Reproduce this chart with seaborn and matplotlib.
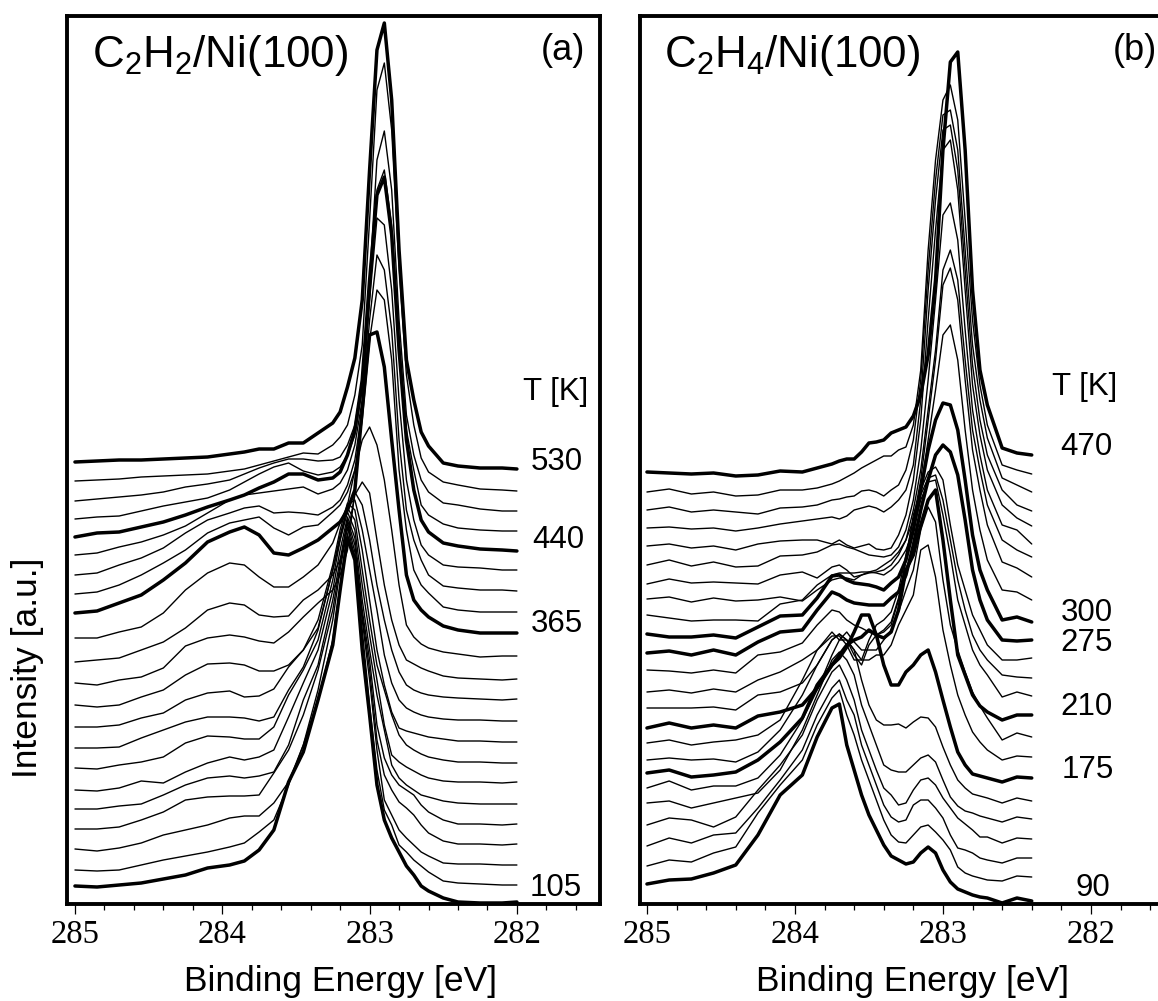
import pandas as pd
import seaborn as sns
import matplotlib.pyplot as plt
from matplotlib.ticker import MultipleLocator

# binding energy grids [eV]
energy_a = [285.0, 284.85, 284.7, 284.55, 284.4, 284.25, 284.1, 283.95, 283.85, 283.75, 283.65,
            283.55, 283.45, 283.35, 283.25, 283.2, 283.15, 283.1, 283.05, 283.0, 282.95, 282.9,
            282.85, 282.8, 282.75, 282.7, 282.65, 282.6, 282.5, 282.4, 282.25, 282.1, 282.0]
energy_b = [285.0, 284.85, 284.7, 284.55, 284.4, 284.25, 284.1, 283.95, 283.85, 283.75, 283.7,
            283.65, 283.6, 283.55, 283.5, 283.45, 283.4, 283.35, 283.3, 283.25, 283.2, 283.15,
            283.1, 283.05, 283.0, 282.95, 282.9, 282.85, 282.8, 282.75, 282.7, 282.6, 282.5, 282.4]

# panel (a) spectra, top one first (stacked intensity)
a01 = [443,444,445,445,446,447,448,451,453,456,456,462,462,472,482,493,518,547,605,735,855,882,805,655,545,505,473,459,442,439,437,437,436]
a02 = [424,425,426,428,429,430,431,434,436,440,444,448,452,451,460,468,480,510,560,685,815,842,775,635,530,480,447,433,423,420,416,415,414]
a03 = [404,406,408,410,413,418,421,425,431,437,442,446,446,444,445,448,460,480,525,625,745,774,715,585,490,450,425,413,402,400,396,394,394]
a04 = [386,388,389,394,399,403,407,415,423,431,438,442,434,430,433,438,450,470,515,605,715,735,680,565,475,435,400,390,381,377,375,374,374]
a05 = [368,372,373,378,383,390,398,405,410,417,423,431,431,425,427,433,450,475,525,625,710,728,670,555,465,415,385,373,362,359,356,355,354]
a06 = [350,352,358,363,370,379,392,405,410,412,414,416,418,411,416,422,435,460,505,605,687,680,615,505,425,385,360,350,340,338,337,335,335]
a07 = [330,332,340,347,357,372,385,392,397,399,392,393,392,390,398,405,420,445,495,585,650,635,575,465,395,365,345,330,319,317,315,315,314]
a08 = [311,313,320,330,342,355,372,382,385,388,377,370,378,380,393,400,413,435,485,565,615,605,545,435,375,335,320,312,298,295,293,293,293]
a09 = [292,294,302,310,325,342,363,373,378,370,352,350,357,365,377,383,395,415,495,570,573,538,465,395,330,305,295,288,279,275,272,272,272]
a10 = [267,267,273,278,292,315,332,342,340,328,318,318,328,340,362,382,400,435,465,478,460,425,375,320,280,268,261,257,253,251,248,249,249]
a11 = [243,245,247,255,263,277,295,302,300,290,288,289,305,315,330,345,370,410,423,412,365,320,285,260,245,241,237,234,229,227,226,225,226]
a12 = [222,220,225,228,237,259,267,270,268,264,262,273,288,302,315,330,355,413,400,365,320,285,255,233,220,215,212,210,208,207,206,205,206]
a13 = [200,198,200,208,215,230,241,242,240,234,234,240,255,277,335,365,400,405,375,335,295,250,222,205,197,193,190,188,186,185,185,184,184]
a14 = [178,178,180,187,192,205,212,214,208,209,216,238,255,285,340,375,402,395,355,305,255,220,193,177,174,172,170,168,166,164,164,163,163]
a15 = [157,157,158,167,175,183,188,188,187,184,188,215,238,275,335,370,397,385,335,285,240,215,190,170,160,155,151,148,145,143,143,142,142]
a16 = [137,136,140,143,148,162,169,168,166,166,178,210,235,265,325,365,393,375,320,270,225,180,150,143,138,134,130,127,124,123,123,122,123]
a17 = [115,114,117,124,122,133,142,148,145,148,155,188,222,255,315,355,388,367,305,255,210,175,140,127,120,115,110,108,104,102,101,101,101]
a18 = [96,96,99,101,110,120,127,129,127,129,133,160,205,240,305,345,385,360,295,245,180,147,130,120,115,110,100,93,85,81,81,80,81]
a19 = [76,76,78,85,93,105,108,109,109,110,132,155,190,235,295,340,382,353,290,235,165,130,115,103,97,90,80,72,64,61,61,60,61]
a20 = [56,54,57,62,70,75,80,87,89,89,102,123,160,215,285,335,378,347,285,225,155,105,90,75,67,60,53,49,42,41,41,40,40]
a21 = [35,34,35,40,45,49,53,58,62,73,85,120,160,205,265,320,370,348,275,200,135,95,80,60,53,45,39,33,24,22,21,20,20]
a22 = [19,18,20,22,26,30,37,40,44,55,75,123,153,205,260,315,367,345,255,190,120,85,67,53,39,30,19,14,7,3,2,2,3]

# panel (b) spectra
b01 = [433,432,431,432,429,430,434,433,437,441,444,446,446,453,462,463,465,472,475,478,489,510,550,625,755,843,853,755,615,535,500,457,452,450]
b02 = [413,416,411,413,409,410,415,415,417,421,424,428,432,437,441,445,449,449,455,458,480,535,655,745,805,820,785,685,585,520,480,440,435,431]
b03 = [395,398,393,395,393,391,397,398,400,405,406,408,409,414,415,413,409,415,420,435,465,525,635,725,790,795,755,655,560,505,467,427,420,413]
b04 = [377,378,376,377,374,377,381,384,386,388,386,389,395,397,399,397,393,398,405,415,440,505,615,705,775,780,735,635,540,485,450,415,400,394]
b05 = [359,361,357,359,355,361,364,365,365,361,365,360,357,359,361,356,355,357,370,390,425,485,585,675,755,765,715,615,520,470,435,400,387,379]
b06 = [340,345,339,343,338,339,349,350,353,360,361,358,356,353,350,349,348,350,358,375,405,455,525,605,690,702,665,575,495,450,415,380,375,361]
b07 = [321,326,322,323,322,321,330,333,327,338,340,335,328,330,332,333,335,340,350,365,395,435,495,555,635,655,625,545,475,435,400,365,355,348]
b08 = [306,308,303,307,304,305,308,304,315,325,327,327,325,330,333,335,340,345,353,365,385,425,485,545,620,637,605,525,455,415,380,343,337,328]
b09 = [290,287,284,285,285,284,301,305,320,330,332,332,332,333,333,332,330,335,343,355,375,415,465,515,570,580,545,475,415,375,345,315,313,305]
b10 = [271,268,268,270,267,278,289,290,307,329,330,325,322,321,320,318,315,322,328,345,375,415,455,485,502,500,475,425,370,335,315,285,288,283]
b11 = [252,254,250,255,250,263,273,275,295,313,310,305,302,301,300,300,300,307,313,330,360,395,425,450,460,453,430,385,335,305,285,265,264,265]
b12 = [235,234,232,235,232,250,253,262,280,295,293,285,280,277,273,270,273,280,305,345,390,415,433,438,425,380,340,315,290,275,260,245,245,247]
b13 = [213,215,212,216,213,225,233,245,255,269,269,260,245,245,265,280,285,293,315,350,385,410,427,430,405,365,325,295,270,255,245,230,228,227]
b14 = [197,197,197,198,195,210,213,222,240,265,271,265,250,240,260,270,275,283,307,345,375,405,423,425,390,350,305,280,255,240,230,208,213,209]
b15 = [177,182,177,180,177,189,193,200,217,240,250,260,265,268,275,270,267,273,295,335,350,380,405,415,365,305,250,230,210,199,193,185,190,190]
b16 = [162,165,160,163,165,170,185,225,255,273,265,273,263,255,255,255,265,275,293,315,335,375,398,383,325,280,255,233,213,199,187,165,172,168]
b17 = [145,147,145,146,143,153,175,210,240,265,271,265,255,245,245,250,250,260,280,295,310,355,360,328,275,240,210,190,173,163,155,145,149,148]
b18 = [132,135,128,130,133,145,163,187,220,240,247,258,273,290,290,270,240,220,220,233,240,250,255,233,205,178,153,140,131,129,127,123,128,127]
b19 = [117,124,115,119,119,127,150,185,215,250,265,265,255,225,200,185,180,180,181,177,183,188,187,178,158,140,125,117,111,109,107,102,107,104]
b20 = [102,104,97,102,107,112,135,175,210,245,253,245,230,200,180,160,140,135,133,133,140,147,150,143,125,108,99,94,92,89,87,83,88,86]
b21 = [80,87,85,78,88,115,140,170,205,233,240,225,205,175,155,135,117,110,100,102,115,125,127,120,107,97,87,81,75,68,68,62,67,66]
b22 = [59,67,62,70,72,97,125,155,190,217,225,205,190,160,140,120,100,88,83,85,100,105,105,97,87,70,57,55,52,47,45,42,47,47]
b23 = [39,45,43,52,58,92,120,145,180,207,215,190,170,145,125,105,85,70,63,62,70,78,80,73,65,55,38,32,29,27,25,24,29,28]
b24 = [21,25,26,32,40,70,110,130,168,197,201,160,135,110,90,75,60,49,45,41,43,52,58,52,35,23,16,13,10,8,7,2,7,4]

spectra_a = [a01,a02,a03,a04,a05,a06,a07,a08,a09,a10,a11,a12,a13,a14,a15,a16,a17,a18,a19,a20,a21,a22]
spectra_b = [b01,b02,b03,b04,b05,b06,b07,b08,b09,b10,b11,b12,b13,b14,b15,b16,b17,b18,b19,b20,b21,b22,b23,b24]
heavy_a = [0, 4, 8, 21]
heavy_b = [0, 9, 10, 14, 17, 23]

sns.set_style('ticks')
plt.rcParams['font.family'] = ['Liberation Sans', 'DejaVu Sans']
plt.rcParams['text.color'] = 'black'
plt.rcParams['xtick.color'] = 'black'
plt.rcParams['mathtext.fontset'] = 'custom'
plt.rcParams['mathtext.rm'] = 'Liberation Sans'
plt.rcParams['mathtext.it'] = 'Liberation Sans'
plt.rcParams['mathtext.default'] = 'regular'

W, H = 1158, 1001
fig = plt.figure(figsize=(W / 100, H / 100), dpi=100)
ax_a = fig.add_axes([67 / W, (H - 904) / H, (600 - 67) / W, (904 - 15.5) / H])
ax_b = fig.add_axes([640 / W, (H - 904) / H, (1175 - 640) / W, (904 - 15.5) / H])


def draw_panel(ax, energy, spectra, heavy, xlim):
    for i, row in enumerate(spectra):
        df = pd.DataFrame({'energy': energy, 'intensity': row})
        sns.lineplot(data=df, x='energy', y='intensity', ax=ax, color='black', sort=False,
                     estimator=None, lw=2.5 if i in heavy else 1.0)
    ax.set_xlim(*xlim)
    ax.set_ylim(1, 889.5)
    ax.set_xlabel('')
    ax.set_ylabel('')
    ax.set_yticks([])
    ax.xaxis.set_major_locator(MultipleLocator(1))
    ax.xaxis.set_minor_locator(MultipleLocator(0.2))
    ax.tick_params(axis='x', which='major', length=7.5, width=0.9, color='black', pad=4)
    ax.tick_params(axis='x', which='minor', length=4.5, width=0.9, color='black')
    for s in ax.spines.values():
        s.set_linewidth(2.8)
        s.set_color('black')
        s.set_visible(True)
    for lab in ax.get_xticklabels():
        lab.set_family('Liberation Serif')
        lab.set_fontsize(23.5)
        lab.set_color('black')


draw_panel(ax_a, energy_a, spectra_a, heavy_a, (285.054, 281.436))
draw_panel(ax_b, energy_b, spectra_b, heavy_b, (285.047, 281.432))

ax_a.text(284.885, 838, r'C$_2$H$_2$/Ni(100)', fontsize=31.6, va='baseline', ha='left')
ax_b.text(284.885, 838, r'C$_2$H$_4$/Ni(100)', fontsize=31.6, va='baseline', ha='left')
ax_a.text(281.69, 855, '(a)', fontsize=26, va='center', ha='center')
ax_b.text(281.70, 855, '(b)', fontsize=26, va='center', ha='center')
ax_a.text(281.74, 513, 'T [K]', fontsize=22.5, va='center', ha='center')
ax_b.text(282.04, 518, 'T [K]', fontsize=22.5, va='center', ha='center')

for t, e, h in [('530', 281.73, 443), ('440', 281.72, 365), ('365', 281.73, 281), ('105', 281.74, 17)]:
    ax_a.text(e, h, t, fontsize=22.5, va='center', ha='center')
for t, e, h in [('470', 282.03, 458), ('300', 282.03, 292), ('275', 282.03, 262),
                ('210', 282.03, 198), ('175', 282.02, 135), ('90', 281.99, 17)]:
    ax_b.text(e, h, t, fontsize=22.5, va='center', ha='center')

fig.text(340.5 / W, 1 - 981 / H, 'Binding Energy [eV]', fontsize=25.5, ha='center', va='center')
fig.text(913 / W, 1 - 981 / H, 'Binding Energy [eV]', fontsize=25.5, ha='center', va='center')
fig.text(28 / W, 1 - 668 / H, 'Intensity [a.u.]', fontsize=25.5, rotation=90, ha='center', va='center')

fig.savefig('out.png', dpi=100)
